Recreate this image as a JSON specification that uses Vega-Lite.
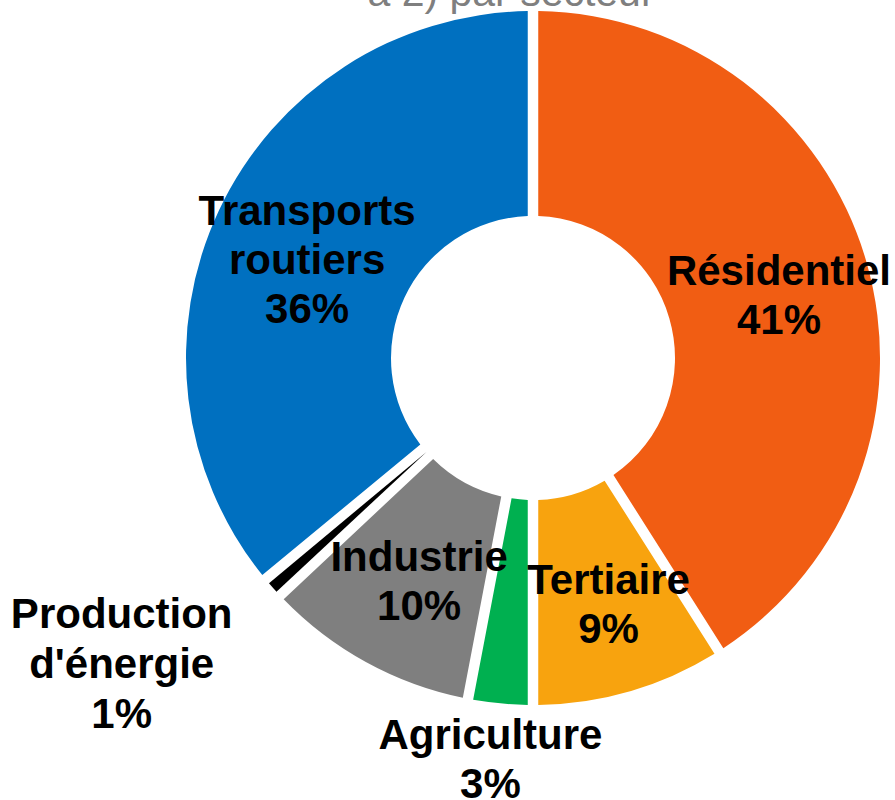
{
  "$schema": "https://vega.github.io/schema/vega-lite/v6.json",
  "width": 700,
  "height": 700,
  "autosize": {"type": "none"},
  "padding": {"left": 183, "top": 8, "right": 12, "bottom": 92},
  "background": "white",
  "title": {
    "text": "à 2) par secteur",
    "font": "Liberation Sans",
    "fontSize": 41,
    "fontWeight": "normal",
    "color": "#7f7f7f",
    "anchor": "middle",
    "baseline": "alphabetic",
    "offset": -39,
    "dx": -22
  },
  "data": {
    "values": [
      {"secteur": "Résidentiel", "part": 41, "rang": 1, "label": "Résidentiel\n41%"},
      {"secteur": "Tertiaire", "part": 9, "rang": 2, "label": "Tertiaire\n9%"},
      {"secteur": "Agriculture", "part": 3, "rang": 3, "label": "Agriculture\n3%"},
      {"secteur": "Industrie", "part": 10, "rang": 4, "label": "Industrie\n10%"},
      {"secteur": "Production d'énergie", "part": 1, "rang": 5, "label": "Production\nd'énergie\n1%"},
      {"secteur": "Transports routiers", "part": 36, "rang": 6, "label": "Transports\nroutiers\n36%"}
    ]
  },
  "encoding": {
    "theta": {"field": "part", "type": "quantitative", "stack": true},
    "order": {"field": "rang", "type": "quantitative", "sort": "ascending"}
  },
  "layer": [
    {
      "mark": {"type": "arc", "innerRadius": 142, "outerRadius": 347, "padAngle": 0.028},
      "encoding": {
        "color": {
          "field": "secteur",
          "type": "nominal",
          "legend": null,
          "scale": {
            "domain": ["Résidentiel", "Tertiaire", "Agriculture", "Industrie", "Production d'énergie", "Transports routiers"],
            "range": ["#f15d13", "#f8a30e", "#00b050", "#7f7f7f", "#000000", "#0070c0"]
          }
        }
      }
    },
    {
      "mark": {"type": "text", "radius": 253, "dx": 3, "dy": -15, "font": "Liberation Sans", "fontSize": 42, "fontWeight": "bold", "lineBreak": "\n", "lineHeight": 49, "baseline": "middle", "align": "center", "color": "#000000"},
      "encoding": {"text": {"condition": {"test": "datum.secteur === 'Résidentiel'", "field": "label"}, "value": ""}}
    },
    {
      "mark": {"type": "text", "radius": 253, "dx": 5, "dy": -20, "font": "Liberation Sans", "fontSize": 42, "fontWeight": "bold", "lineBreak": "\n", "lineHeight": 49, "baseline": "middle", "align": "center", "color": "#000000"},
      "encoding": {"text": {"condition": {"test": "datum.secteur === 'Tertiaire'", "field": "label"}, "value": ""}}
    },
    {
      "mark": {"type": "text", "radius": 253, "dx": 8, "dy": -22, "font": "Liberation Sans", "fontSize": 42, "fontWeight": "bold", "lineBreak": "\n", "lineHeight": 49, "baseline": "middle", "align": "center", "color": "#000000"},
      "encoding": {"text": {"condition": {"test": "datum.secteur === 'Industrie'", "field": "label"}, "value": ""}}
    },
    {
      "mark": {"type": "text", "radius": 253, "dx": 3, "dy": -38, "font": "Liberation Sans", "fontSize": 42, "fontWeight": "bold", "lineBreak": "\n", "lineHeight": 49, "baseline": "middle", "align": "center", "color": "#000000"},
      "encoding": {"text": {"condition": {"test": "datum.secteur === 'Transports routiers'", "field": "label"}, "value": ""}}
    },
    {
      "mark": {"type": "text", "radius": 410, "dx": -4, "dy": -30, "font": "Liberation Sans", "fontSize": 42, "fontWeight": "bold", "lineBreak": "\n", "lineHeight": 49, "baseline": "middle", "align": "center", "color": "#000000"},
      "encoding": {"text": {"condition": {"test": "datum.secteur === 'Agriculture'", "field": "label"}, "value": ""}}
    },
    {
      "mark": {"type": "text", "radius": 515, "dx": -25, "dy": -84, "font": "Liberation Sans", "fontSize": 42, "fontWeight": "bold", "lineBreak": "\n", "lineHeight": 50, "baseline": "middle", "align": "center", "color": "#000000"},
      "encoding": {"text": {"condition": {"test": "datum.secteur === \"Production d'énergie\"", "field": "label"}, "value": ""}}
    }
  ],
  "config": {"view": {"stroke": null}}
}
